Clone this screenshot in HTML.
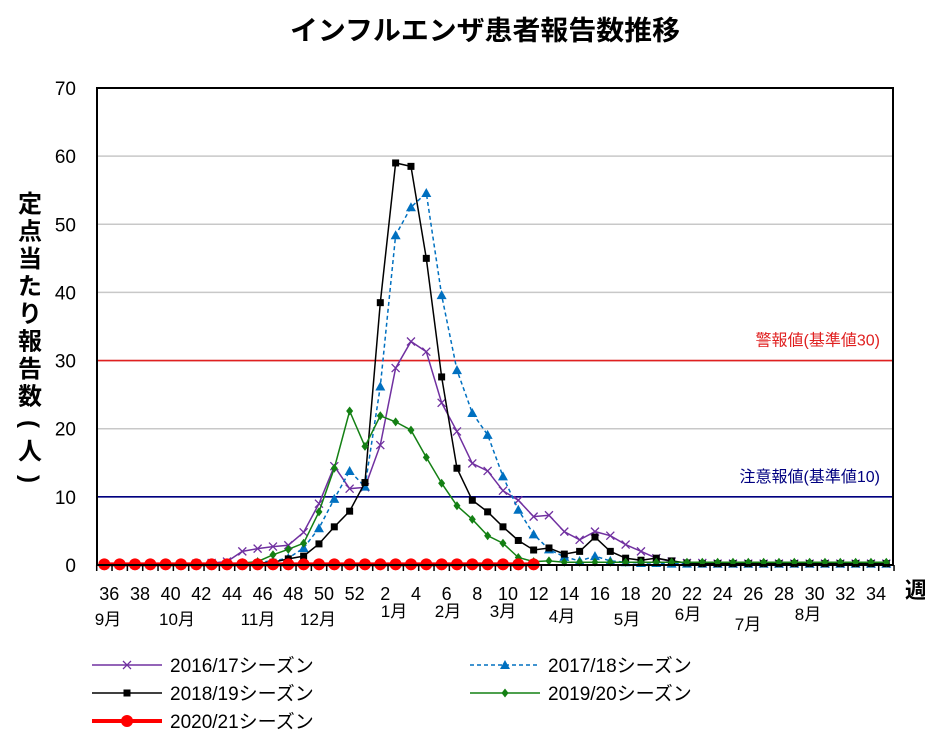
<!DOCTYPE html>
<html><head><meta charset="utf-8"><style>
body{margin:0;background:#fff;}
svg{display:block;font-family:"Liberation Sans","Noto Sans CJK JP",sans-serif;}
</style></head><body>
<svg id="chart" width="925" height="741" viewBox="0 0 925 741">
<text x="485" y="40" text-anchor="middle" font-size="27" font-weight="bold" textLength="390" lengthAdjust="spacingAndGlyphs">インフルエンザ患者報告数推移</text>
<g id="grid"></g>
<g id="yticks"></g>
<g id="ytitle"></g>
<g id="refs"></g>
<g id="series"></g>
<g id="axes"></g>
<g id="xticks"></g>
<text x="905" y="598" font-size="22" font-weight="bold">週</text>
<g id="legend"></g>
</svg>
<script>
const weeks=[36,37,38,39,40,41,42,43,44,45,46,47,48,49,50,51,52,1,2,3,4,5,6,7,8,9,10,11,12,13,14,15,16,17,18,19,20,21,22,23,24,25,26,27,28,29,30,31,32,33,34,35];
const yTicks=[0,10,20,30,40,50,60,70];
const months=[["9月",108,620],["10月",177,620],["11月",258,620],["12月",318,620],["1月",394,612],["2月",448,612],["3月",503,612],["4月",562,617],["5月",627,620],["6月",688,615],["7月",748,625],["8月",808,615]];
const s1617=[0.1,0.1,0.1,0.1,0.1,0.1,0.2,0.3,0.5,2.0,2.4,2.7,2.9,4.8,9.0,14.5,11.2,11.4,17.6,28.9,32.8,31.3,23.8,19.6,14.9,13.8,10.9,9.5,7.1,7.3,4.9,3.7,4.9,4.3,3.0,2.0,1.0,0.5,0.3,0.3,0.2,0.2,0.2,0.2,0.2,0.2,0.2,0.2,0.2,0.2,0.2,0.2];
const s1718=[0.1,0.1,0.1,0.1,0.1,0.1,0.1,0.2,0.2,0.3,0.4,0.6,1.0,2.5,5.4,9.7,13.8,11.5,26.2,48.4,52.5,54.6,39.6,28.6,22.3,19.1,13.0,8.1,4.5,2.3,1.2,0.6,1.3,0.6,0.4,0.3,0.3,0.2,0.2,0.2,0.2,0.2,0.2,0.2,0.2,0.2,0.2,0.2,0.2,0.2,0.2,0.2];
const s1819=[0.1,0.1,0.1,0.1,0.1,0.1,0.1,0.1,0.2,0.2,0.3,0.4,0.9,1.3,3.1,5.6,7.9,12.1,38.5,59.0,58.5,45.0,27.6,14.2,9.5,7.8,5.6,3.6,2.2,2.5,1.6,2.0,4.1,2.0,1.0,0.7,1.0,0.6,0.3,0.2,0.2,0.2,0.2,0.2,0.2,0.2,0.2,0.2,0.2,0.2,0.2,0.2];
const s1920=[0.1,0.1,0.1,0.1,0.1,0.1,0.1,0.2,0.2,0.3,0.5,1.5,2.3,3.2,7.8,14.2,22.6,17.4,21.9,21.0,19.8,15.8,12.0,8.7,6.7,4.3,3.2,1.1,0.5,0.6,0.4,0.4,0.4,0.4,0.4,0.4,0.4,0.4,0.4,0.4,0.4,0.4,0.4,0.4,0.4,0.4,0.4,0.4,0.4,0.4,0.4,0.4];
const s2021=[0.1,0.1,0.1,0.1,0.1,0.1,0.1,0.1,0.1,0.1,0.1,0.1,0.1,0.1,0.1,0.1,0.1,0.1,0.1,0.1,0.1,0.1,0.1,0.1,0.1,0.1,0.1,0.1,0.1];
const refValues=[30,10];
const refLabels=["警報値(基準値30)","注意報値(基準値10)"];

const NS="http://www.w3.org/2000/svg";
const L=97,R=893,T=88,B=565,YMAX=70;
const x=i=>104+i*(R-L-14)/(weeks.length-1)+0.3;
const y=v=>B-v*(B-T)/YMAX;
function mk(tag,attrs,parent){const e=document.createElementNS(NS,tag);for(const k in attrs)e.setAttribute(k,attrs[k]);parent.appendChild(e);return e;}
const ytg=document.getElementById('ytitle');
const ytChars=["定","点","当","た","り","報","告","数","(","人",")"];
ytChars.forEach((c,k)=>{
  const isP=(c==="("||c===")");
  const t=mk('text',{x:30,y:212+k*27.5,'text-anchor':'middle','font-size':24,'font-weight':'bold',transform:isP?`rotate(90 30 ${212+k*27.5-8})`:''},ytg);
  t.textContent=c;
  
  
});
const grid=document.getElementById('grid'),yt=document.getElementById('yticks');
yTicks.forEach(v=>{
  if(v>0&&v<70){const g=mk('line',{x1:L,x2:R,y1:y(v),y2:y(v),stroke:'#c8c8c8','stroke-width':1.5},grid);
  
  }
  const t=mk('text',{x:76,y:y(v)+7,'text-anchor':'end','font-size':19},yt);t.textContent=v;
  
  
});
const refs=document.getElementById('refs');
const refColors=['#e02020','#000080'];
refValues.forEach((v,k)=>{
  const ln=mk('line',{x1:L,x2:R,y1:y(v),y2:y(v),stroke:refColors[k],'stroke-width':1.6},refs);
  
  
  const t=mk('text',{x:880,y:y(v)-15,'text-anchor':'end','font-size':16,fill:refColors[k]},refs);t.textContent=refLabels[k];
  
  
});
const axes=document.getElementById('axes');
const box=mk('rect',{x:L,y:T,width:R-L,height:B-T,fill:'none',stroke:'#000','stroke-width':2},axes);


const xt=document.getElementById('xticks');
for(let i=0;i<=weeks.length;i++){const xx=x(i)-7.6;
  const tk=mk('line',{x1:xx,x2:xx,y1:B,y2:B+6,stroke:'#000','stroke-width':1.5},axes);
  
  }
weeks.forEach((w,i)=>{if(i%2===0){const t=mk('text',{x:x(i)+5,y:600,'text-anchor':'middle','font-size':18},xt);t.textContent=w;
  
  }});
months.forEach(m=>{const t=mk('text',{x:m[1],y:m[2]+5,'text-anchor':'middle','font-size':17},xt);t.textContent=m[0];
  
  });
const sg=document.getElementById('series');
function marker(type,cx,cy,color,g){
  if(type==='x'){const p=mk('path',{d:`M${cx-4} ${cy-4}L${cx+4} ${cy+4}M${cx-4} ${cy+4}L${cx+4} ${cy-4}`,stroke:color,'stroke-width':1.3},g);return p;}
  if(type==='tri')return mk('path',{d:`M${cx} ${cy-5}L${cx+5} ${cy+4}L${cx-5} ${cy+4}Z`,fill:color},g);
  if(type==='sq')return mk('rect',{x:cx-3.5,y:cy-3.5,width:7,height:7,fill:color},g);
  if(type==='dia')return mk('path',{d:`M${cx} ${cy-4.5}L${cx+3.5} ${cy}L${cx} ${cy+4.5}L${cx-3.5} ${cy}Z`,fill:color},g);
  return mk('circle',{cx:cx,cy:cy,r:6,fill:color},g);
}
const seriesDefs=[
 {name:'2016/17シーズン',data:s1617,color:'#7030a0',mk:'x',w:1.5,dash:null,id:'series-2016-17'},
 {name:'2017/18シーズン',data:s1718,color:'#0070c0',mk:'tri',w:1.5,dash:'4 3',id:'series-2017-18'},
 {name:'2018/19シーズン',data:s1819,color:'#000000',mk:'sq',w:1.5,dash:null,id:'series-2018-19'},
 {name:'2019/20シーズン',data:s1920,color:'#148014',mk:'dia',w:1.5,dash:null,id:'series-2019-20'},
 {name:'2020/21シーズン',data:s2021,color:'#ff0000',mk:'circ',w:4,dash:null,id:'series-2020-21'}];
seriesDefs.forEach(s=>{
  const g=mk('g',{},sg);
  
  
  const pts=s.data.map((v,i)=>x(i)+','+y(v)).join(' ');
  const a={points:pts,fill:'none',stroke:s.color,'stroke-width':s.w};if(s.dash)a['stroke-dasharray']=s.dash;
  const pl=mk('polyline',a,g);
  
  
  s.data.forEach((v,i)=>{const m=marker(s.mk,x(i),y(v),s.color,g);
    
    });
});
const lg=document.getElementById('legend');
const pos=[[92,665],[470,665],[92,693],[470,693],[92,721]];
const order=[0,1,2,3,4];
order.forEach((k,j)=>{const s=seriesDefs[k];const [lx,ly]=pos[j];
  const g=mk('g',{},lg);
  
  
  const a={x1:lx,x2:lx+70,y1:ly,y2:ly,stroke:s.color,'stroke-width':s.w};if(s.dash)a['stroke-dasharray']=s.dash;
  mk('line',a,g);marker(s.mk,lx+35,ly,s.color,g);
  const t=mk('text',{x:lx+78,y:ly+7,'font-size':19},g);t.textContent=s.name;
});
</script>
</body></html>
